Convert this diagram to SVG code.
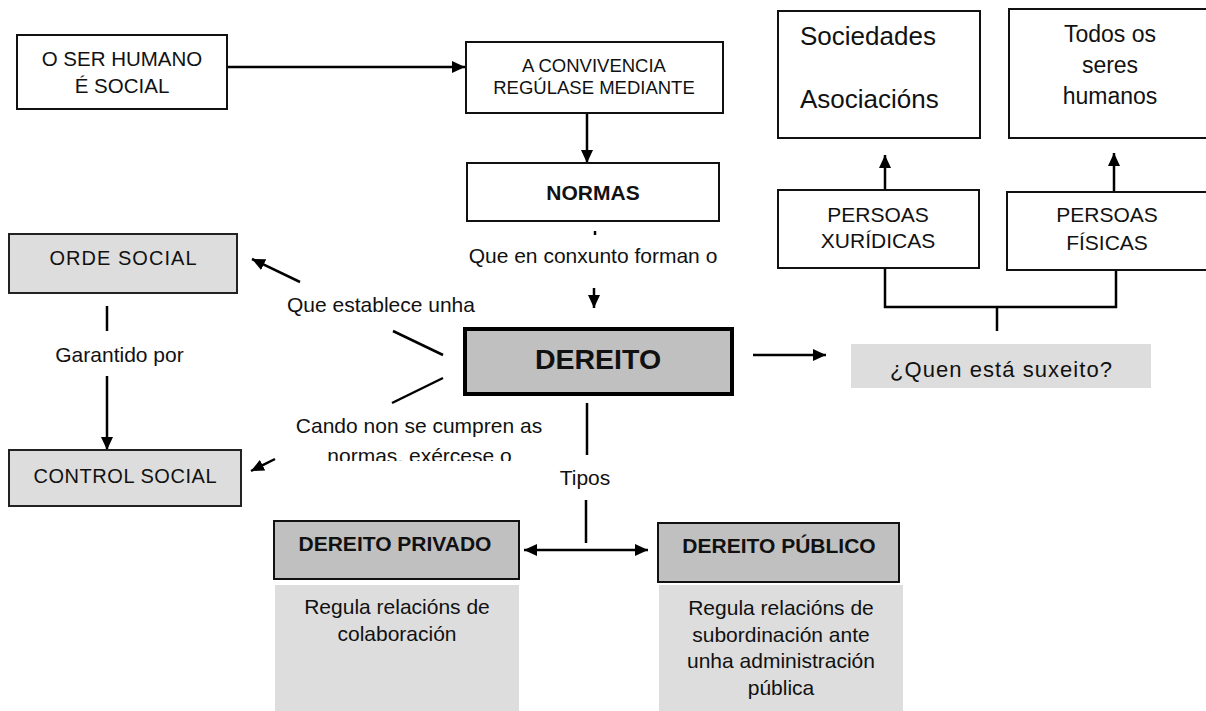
<svg xmlns="http://www.w3.org/2000/svg" width="1206" height="711" viewBox="0 0 1206 711">
<style>
text{font-family:"Liberation Sans",Arial,sans-serif;fill:#111;}
.c{text-anchor:middle;}
.b{font-weight:bold;}
.box{fill:#fff;stroke:#111;stroke-width:2;}
.gl{fill:#dddddd;stroke:#222;stroke-width:2;}
.gd{fill:#c0c0c0;stroke:#111;stroke-width:2;}
.pl{fill:#dddddd;stroke:none;}
.ln{stroke:#000;stroke-width:2.5;fill:none;}
.ar{marker-end:url(#ah);}
</style>
<defs>
<marker id="ah" markerUnits="userSpaceOnUse" markerWidth="14" markerHeight="12" refX="13" refY="6" orient="auto-start-reverse">
<path d="M0,0 L13,6 L0,12 z" fill="#000"/>
</marker>
<clipPath id="clipCando"><rect x="280" y="400" width="300" height="61"/></clipPath>
</defs>

<g id="connectors">
<line class="ln ar" x1="227" y1="67" x2="465" y2="67"/>
<line class="ln ar" x1="587" y1="113" x2="587" y2="163"/>
<line class="ln" x1="595" y1="231" x2="595" y2="235" stroke-width="2"/>
<line class="ln ar" x1="594" y1="288" x2="594" y2="308"/>
<line class="ln ar" x1="753" y1="355" x2="826" y2="355"/>
<polyline class="ln" points="885,268 885,307 1116,307 1116,270"/>
<line class="ln" x1="997" y1="307" x2="997" y2="331"/>
<line class="ln ar" x1="885" y1="190" x2="885" y2="155"/>
<line class="ln ar" x1="1114" y1="192" x2="1114" y2="153"/>
<line class="ln ar" x1="300" y1="282" x2="252" y2="259"/>
<line class="ln" x1="393" y1="331" x2="443" y2="355"/>
<line class="ln" x1="443" y1="378" x2="392" y2="403"/>
<line class="ln ar" x1="275" y1="459" x2="251" y2="471"/>
<line class="ln" x1="107" y1="306" x2="107" y2="331"/>
<line class="ln ar" x1="107" y1="376" x2="107" y2="450"/>
<line class="ln" x1="587" y1="403" x2="587" y2="455"/>
<line class="ln" x1="586" y1="500" x2="586" y2="543"/>
<line class="ln ar" x1="586" y1="550" x2="648" y2="550"/>
<line class="ln ar" x1="586" y1="550" x2="524" y2="550"/>
</g>

<g id="labels">
<text class="c" x="593" y="263" font-size="21">Que en conxunto forman o</text>
<text x="287" y="312" font-size="21">Que establece unha</text>
<text class="c" x="119.5" y="362" font-size="21">Garantido por</text>
<g clip-path="url(#clipCando)">
<text class="c" x="419" y="433" font-size="21">Cando non se cumpren as</text>
<text class="c" x="419.5" y="463" font-size="21">normas, exércese o</text>
</g>
<text class="c" x="585" y="485" font-size="21">Tipos</text>
</g>

<g id="ser-humano">
<rect class="box" x="17" y="35" width="210" height="74"/>
<text class="c" x="122" y="66" font-size="20.5">O SER HUMANO</text>
<text class="c" x="122" y="93" font-size="20.5">É SOCIAL</text>
</g>

<g id="convivencia">
<rect class="box" x="466" y="42" width="257" height="71"/>
<text class="c" x="594" y="72" font-size="18.5">A CONVIVENCIA</text>
<text class="c" x="594" y="94" font-size="18.5">REGÚLASE MEDIANTE</text>
</g>

<g id="normas">
<rect class="box" x="467" y="163" width="252" height="58"/>
<text class="c b" x="593" y="200" font-size="21">NORMAS</text>
</g>

<g id="dereito">
<rect x="465" y="329" width="267" height="65" fill="#c0c0c0" stroke="#000" stroke-width="4"/>
<text class="c b" x="598" y="369" font-size="28.5">DEREITO</text>
</g>

<g id="quen">
<rect class="pl" x="851" y="344" width="300" height="44"/>
<text class="c" x="1001" y="377" font-size="22" textLength="222">¿Quen está suxeito?</text>
</g>

<g id="sociedades">
<rect class="box" x="778" y="11" width="202" height="127"/>
<text x="800" y="45" font-size="26">Sociedades</text>
<text x="800" y="108" font-size="26">Asociacións</text>
</g>

<g id="todos">
<rect class="box" x="1009" y="9" width="200" height="129"/>
<text class="c" x="1110" y="42" font-size="23">Todos os</text>
<text class="c" x="1110" y="73" font-size="23">seres</text>
<text class="c" x="1110" y="104" font-size="23">humanos</text>
</g>

<g id="xuridicas">
<rect class="box" x="778" y="190" width="201" height="78"/>
<text class="c" x="878" y="222" font-size="21">PERSOAS</text>
<text class="c" x="878" y="248" font-size="21">XURÍDICAS</text>
</g>

<g id="fisicas">
<rect class="box" x="1007" y="192" width="202" height="78"/>
<text class="c" x="1107" y="222" font-size="21">PERSOAS</text>
<text class="c" x="1107" y="250" font-size="21">FÍSICAS</text>
</g>

<g id="orde-social">
<rect class="gl" x="9" y="234" width="228" height="59"/>
<text class="c" x="123" y="265" font-size="20" textLength="147">ORDE SOCIAL</text>
</g>

<g id="control-social">
<rect class="gl" x="9" y="450" width="232" height="56"/>
<text class="c" x="125" y="483" font-size="20" textLength="183">CONTROL SOCIAL</text>
</g>

<g id="privado">
<rect class="gd" x="274" y="521" width="245" height="58"/>
<text class="c b" x="395" y="551" font-size="21">DEREITO PRIVADO</text>
</g>

<g id="privado-desc">
<rect class="pl" x="275" y="585" width="244" height="126"/>
<text class="c" x="397" y="614" font-size="21">Regula relacións de</text>
<text class="c" x="397" y="641" font-size="21">colaboración</text>
</g>

<g id="publico">
<rect class="gd" x="658" y="523" width="241" height="59"/>
<text class="c b" x="779" y="553" font-size="21">DEREITO PÚBLICO</text>
</g>

<g id="publico-desc">
<rect class="pl" x="659" y="585" width="244" height="126"/>
<text class="c" x="781" y="615" font-size="21">Regula relacións de</text>
<text class="c" x="781" y="642" font-size="21">subordinación ante</text>
<text class="c" x="781" y="668" font-size="21">unha administración</text>
<text class="c" x="781" y="695" font-size="21">pública</text>
</g>
</svg>
